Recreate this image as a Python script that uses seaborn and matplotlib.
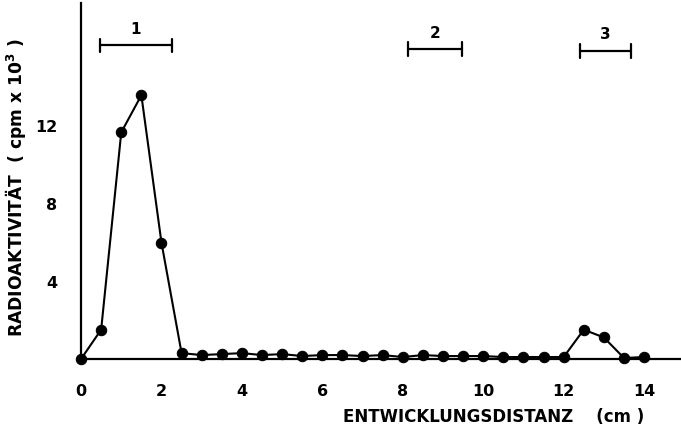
import matplotlib
matplotlib.use("Agg")
import matplotlib.pyplot as plt
import numpy as np
import pandas as pd
import seaborn as sns

# Migration distance (cm) and measured radioactivity (cpm x 10^3)
distance = [0.0, 0.5, 1.0, 1.5, 2.0, 2.5, 3.0, 3.5, 4.0, 4.5, 5.0, 5.5, 6.0, 6.5,
            7.0, 7.5, 8.0, 8.5, 9.0, 9.5, 10.0, 10.5, 11.0, 11.5, 12.0, 12.5,
            13.0, 13.5, 14.0]
activity = [0.0, 1.5, 11.6, 13.5, 5.95, 0.3, 0.2, 0.25, 0.3, 0.2, 0.25, 0.15,
            0.2, 0.2, 0.15, 0.2, 0.1, 0.2, 0.15, 0.15, 0.15, 0.1, 0.1, 0.1,
            0.1, 1.5, 1.1, 0.05, 0.1]

# Reference zones (start, end, height) with their labels
zone_labels = ["1", "2", "3"]
zone_start = [0.47, 8.13, 12.41]
zone_end = [2.26, 9.48, 13.68]
zone_height = [16.05, 15.85, 15.75]

x_ticks = [0, 2, 4, 6, 8, 10, 12, 14]
y_ticks = [4, 8, 12]

sns.set_theme(style="white")
plt.rcParams["font.family"] = ["DejaVu Sans"]
plt.rcParams["font.weight"] = "bold"

df = pd.DataFrame({"distance": distance, "activity": activity})

fig = plt.figure(figsize=(6.81, 4.39), dpi=100)
ax = fig.add_axes([0.119, 0.18, 0.88, 0.81])

sns.lineplot(data=df, x="distance", y="activity", ax=ax, color="black",
             marker="o", markersize=7.5, markeredgecolor="black",
             markerfacecolor="black", linewidth=1.5, clip_on=False)

for lab, s, e, h in zip(zone_labels, zone_start, zone_end, zone_height):
    ax.plot([s, e], [h, h], color="black", linewidth=1.6)
    for xe in (s, e):
        ax.plot([xe, xe], [h - 0.35, h + 0.35], color="black", linewidth=1.6)
    ax.text((s + e) / 2, h + 0.5, lab, ha="center", va="bottom",
            fontsize=11, fontweight="bold", color="black")

ax.set_xlim(0, 14.9)
ax.set_ylim(0, 18.2)
ax.set_xticks(x_ticks)
ax.set_yticks(y_ticks)
ax.tick_params(axis="both", direction="out", length=7, width=1.3,
               colors="black", labelsize=11.5, pad=10)
for lbl in ax.get_xticklabels() + ax.get_yticklabels():
    lbl.set_fontweight("bold")

for side in ("top", "right"):
    ax.spines[side].set_visible(False)
for side in ("left", "bottom"):
    ax.spines[side].set_color("black")
    ax.spines[side].set_linewidth(1.6)

ax.set_xlabel("ENTWICKLUNGSDISTANZ    (cm )", fontsize=12, fontweight="bold",
              color="black")
ax.xaxis.set_label_coords(0.688, -0.135)
ax.set_ylabel("RADIOAKTIVITÄT  ( cpm x 10$^3$ )", fontsize=12.3,
              fontweight="bold", color="black")
ax.yaxis.set_label_coords(-0.088, 0.485)

fig.savefig("out.png", dpi=100, facecolor="white")
